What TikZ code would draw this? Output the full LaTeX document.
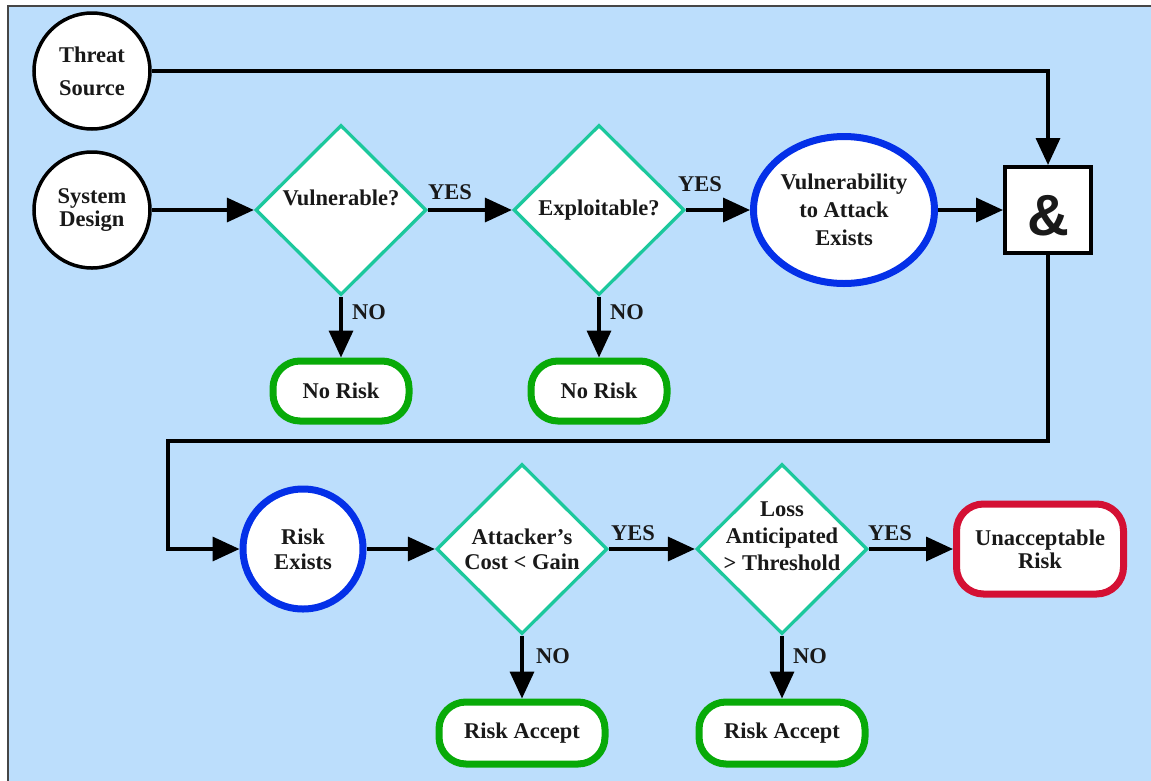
\documentclass[tikz,border=0pt]{standalone}
\usepackage{fontspec}
\setmainfont{Liberation Serif}
\newfontfamily\ampfont{Liberation Sans}
\usetikzlibrary{arrows.meta,shapes.geometric}

\definecolor{panelblue}{RGB}{188,222,252}
\definecolor{framegray}{RGB}{70,70,70}
\definecolor{decteal}{RGB}{28,200,156}
\definecolor{okgreen}{RGB}{8,170,8}
\definecolor{stateblue}{RGB}{4,48,232}
\definecolor{alertred}{RGB}{212,16,52}

\begin{document}
\begin{tikzpicture}[x=1pt,y=-1pt,
  every node/.style={font=\bfseries\fontsize{22.5}{26}\selectfont, align=center, inner sep=0pt, text=black!90},
  conn/.style={line width=3.5pt, -{Triangle[length=27pt,width=24pt]}},
  source/.style={circle, draw=black, line width=3.5pt, fill=white, minimum size=116pt},
  decision/.style={diamond, draw=decteal, line width=3.3pt, fill=white, minimum width=171pt, minimum height=170pt},
  statecircle/.style={circle, draw=stateblue, line width=7pt, fill=white, minimum size=120pt},
  stateellipse/.style={ellipse, draw=stateblue, line width=7pt, fill=white, minimum width=181pt, minimum height=147pt},
  outcome/.style={rectangle, rounded corners=27pt, line width=7pt, fill=white},
  safe/.style={outcome, draw=okgreen},
  danger/.style={outcome, draw=alertred, minimum width=167pt, minimum height=90pt},
  lbl/.style={}
]
\useasboundingbox (0,0) rectangle (1151,780);

% panel
\fill[white] (0,0) rectangle (1151,780);
\fill[panelblue] (8,6) rectangle (1160,790);
\draw[framegray, line width=2pt] (8,790) -- (8,6) -- (1160,6);

% inputs
\node[source] (ts) at (92,71) {Threat\\[7pt]Source};
\node[source] (sd) at (92,210) {System\\[-3pt]Design};

% first row of decisions
\node[decision, label={[name=vultxt, yshift=12pt]center:Vulnerable?}] (vul) at (341,210) {};
\node[decision] (expl) at (599,210) {Exploitable?};
\node[stateellipse] (vae) at (844,210) {Vulnerability\\[2pt]to Attack\\[2pt]Exists};
\node[rectangle, draw=black, line width=4pt, fill=white, minimum size=86pt,
      label={[name=amp, yshift=-6pt, font=\ampfont\bfseries\fontsize{58}{60}\selectfont]center:\&}] (andg) at (1048,210) {};

\node[safe, minimum width=136pt, minimum height=60pt] (nr1) at (341,391) {No Risk};
\node[safe, minimum width=136pt, minimum height=60pt] (nr2) at (599,391) {No Risk};

% second row
\node[statecircle] (re) at (303,549) {Risk\\[-1pt]Exists};
\node[decision] (acg) at (522,549) {Attacker’s\\[-1pt]Cost < Gain};
\node[decision, label={[name=lattxt, yshift=13pt]center:Loss\\[1pt]Anticipated\\[1pt]> Threshold}] (lat) at (782,549) {};
\node[danger] (ur) at (1040,549) {Unacceptable\\[-3pt]Risk};

\node[safe, minimum width=166pt, minimum height=62pt] (ra1) at (522,733) {Risk Accept};
\node[safe, minimum width=166pt, minimum height=62pt] (ra2) at (782,733) {Risk Accept};

% branch labels
\node[lbl] (yes1) at (450,192) {YES};
\node[lbl] (yes2) at (700,184) {YES};
\node[lbl] (yes3) at (633,533) {YES};
\node[lbl] (yes4) at (890,533) {YES};
\node[lbl] (no1) at (369,312) {NO};
\node[lbl] (no2) at (627,312) {NO};
\node[lbl] (no3) at (553,656) {NO};
\node[lbl] (no4) at (810,656) {NO};

% routing points of the long return line
\coordinate (turnR) at (1048,441);
\coordinate (turnL) at (168,441);

% connectors
\draw[conn] (ts.east) -| (andg.north);
\draw[conn] (sd.east) -- (vul.west);
\draw[conn] (vul.east) -- (expl.west);
\draw[conn] (expl.east) -- (vae.west);
\draw[conn] (vae.east) -- (andg.west);
\draw[conn] (vul.south) -- (nr1.north);
\draw[conn] (expl.south) -- (nr2.north);
\draw[conn] (andg.south) -- (turnR) -- (turnL) |- (re.west);
\draw[conn] (re.east) -- (acg.west);
\draw[conn] (acg.east) -- (lat.west);
\draw[conn] (lat.east) -- (ur.west);
\draw[conn] (acg.south) -- (ra1.north);
\draw[conn] (lat.south) -- (ra2.north);
\end{tikzpicture}
\end{document}
